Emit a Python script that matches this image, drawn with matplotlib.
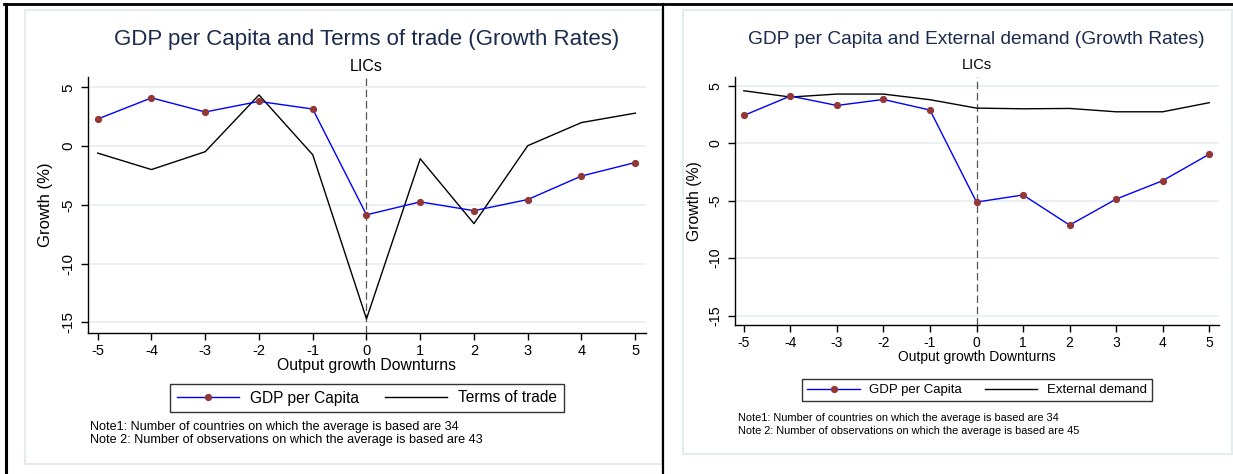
import matplotlib
matplotlib.use("Agg")
import matplotlib.pyplot as plt
from matplotlib.lines import Line2D
from matplotlib.patches import Rectangle

plt.rcParams['font.family'] = ['Liberation Sans', 'DejaVu Sans']
plt.rcParams['axes.unicode_minus'] = False

W, H = 1233, 474

# event time around output growth downturns
horizon = [-5, -4, -3, -2, -1, 0, 1, 2, 3, 4, 5]

# left panel: GDP per capita vs terms of trade
gdp_left = [2.3, 4.1, 2.9, 3.8, 3.15, -5.85, -4.75, -5.5, -4.55, -2.55, -1.4]
terms_of_trade = [-0.6, -2.0, -0.48, 4.35, -0.74, -14.7, -1.08, -6.6, 0.03, 2.0, 2.8]

# right panel: GDP per capita vs external demand
gdp_right = [2.41, 4.1, 3.28, 3.8, 2.88, -5.12, -4.5, -7.12, -4.86, -3.26, -0.96]
external_demand = [4.56, 4.01, 4.27, 4.27, 3.78, 3.05, 2.99, 3.02, 2.73, 2.73, 3.52]

yticks = [5, 0, -5, -10, -15]
xticks = horizon

title_color = "#1c2b4c"
grid_color = "#e6eff1"
marker_color = "#943737"
frame_color = "#e4ecee"


def fx(px):
    return px / W


def fy(py):
    return 1 - py / H


def panel(fig, box, ylim, frame, title, gdp, second, second_name, notes, fs):
    x0, x1, y0, y1 = box
    ax = fig.add_axes([fx(x0), fy(y1), fx(x1 - x0), (y1 - y0) / H])

    # light frame around the panel
    fx0, fx1, fy0, fy1 = frame
    fig.add_artist(Rectangle((fx(fx0), fy(fy1)), fx(fx1 - fx0), (fy1 - fy0) / H,
                             transform=fig.transFigure, fill=False,
                             edgecolor=frame_color, linewidth=1.5))

    for t in yticks:
        ax.axhline(t, color=grid_color, linewidth=1.2, zorder=0)
    ax.axvline(0, color="#555555", linestyle=(0, (6, 3)), linewidth=0.9, zorder=1)

    ax.plot(horizon, gdp, color="blue", linewidth=1.0,
            marker="o", markersize=4.2, markerfacecolor=marker_color,
            markeredgecolor=marker_color, label="GDP per Capita", zorder=3)
    ax.plot(horizon, second, color="black", linewidth=1.0, label=second_name, zorder=2)

    ax.set_xlim(-5.19, 5.2)
    ax.set_ylim(*ylim)
    ax.set_xticks(xticks)
    ax.set_yticks(yticks)
    ax.set_yticklabels([str(t) for t in yticks], rotation=90, va="center")
    ax.tick_params(direction="out", length=5, width=1, labelsize=fs["tick"], pad=3)
    ax.tick_params(axis="y", labelsize=fs["ytick"], pad=4)
    for s in ["top", "right"]:
        ax.spines[s].set_visible(False)
    for s in ["left", "bottom"]:
        ax.spines[s].set_linewidth(1.0)

    ax.set_xlabel("Output growth Downturns", fontsize=fs["label"], labelpad=0)
    ax.set_ylabel("Growth (%)", fontsize=fs["ylabel"])
    ax.yaxis.set_label_coords(fs["ylab_x"], 0.5)

    cx = fs["cx"]
    fig.text(fx(cx), fy(fs["title_y"]), title, ha="center", va="center",
             fontsize=fs["title"], color=title_color)
    fig.text(fx(cx), fy(fs["sub_y"]), "LICs", ha="center", va="center",
             fontsize=fs["sub"], color="black")

    h, l = ax.get_legend_handles_labels()
    leg = fig.legend(h, l, loc="center", ncol=2,
                     bbox_to_anchor=(fx(fs["leg_x"]), fy(fs["leg_y"])),
                     fontsize=fs["legend"], frameon=True, fancybox=False,
                     edgecolor="black", handlelength=4.0, handletextpad=0.7,
                     columnspacing=1.7, borderpad=0.4)
    leg.get_frame().set_linewidth(1.0)

    fig.text(fx(fs["note_x"]), fy(fs["note_y"][0]), notes[0], ha="left", va="center",
             fontsize=fs["note"])
    fig.text(fx(fs["note_x"]), fy(fs["note_y"][1]), notes[1], ha="left", va="center",
             fontsize=fs["note"])
    return ax


fig = plt.figure(figsize=(W / 100, H / 100), dpi=100)

left_fs = dict(tick=10.5, ytick=11, label=11.3, ylabel=12, ylab_x=-0.062,
               title=16, sub=11.5, legend=11.2, note=9.1, cx=366.6,
               title_y=40, sub_y=67, leg_x=367, leg_y=398, note_x=90, note_y=(427, 440))
right_fs = dict(tick=10, ytick=10.2, label=10.0, ylabel=11.3, ylab_x=-0.068,
                title=13.8, sub=10.5, legend=9.5, note=7.9, cx=976.5,
                title_y=40, sub_y=65, leg_x=977, leg_y=390, note_x=738, note_y=(418, 431))

panel(fig, (87.5, 646, 77.3, 332.7), (-15.88, 5.85), (25, 661.5, 10, 464),
      "GDP per Capita and Terms of trade (Growth Rates)", gdp_left, terms_of_trade,
      "Terms of trade",
      ["Note1: Number of countries on which the average is based are 34",
       "Note 2: Number of observations on which the average is based are 43"],
      left_fs)

panel(fig, (735, 1218.5, 76.7, 325.3), (-15.83, 5.78), (682.5, 1231.5, 10, 454.3),
      "GDP per Capita and External demand (Growth Rates)", gdp_right, external_demand,
      "External demand",
      ["Note1: Number of countries on which the average is based are 34",
       "Note 2: Number of observations on which the average is based are 45"],
      right_fs)

# black table borders
fig.add_artist(Line2D([fx(4), 1], [fy(3.5), fy(3.5)], color="black", linewidth=2))
fig.add_artist(Line2D([fx(5.5), fx(5.5)], [0, fy(3.5)], color="black", linewidth=2.2))
fig.add_artist(Line2D([fx(663), fx(663)], [0, fy(3.5)], color="black", linewidth=1.6))

fig.savefig("out.png", dpi=100)
plt.close(fig)
